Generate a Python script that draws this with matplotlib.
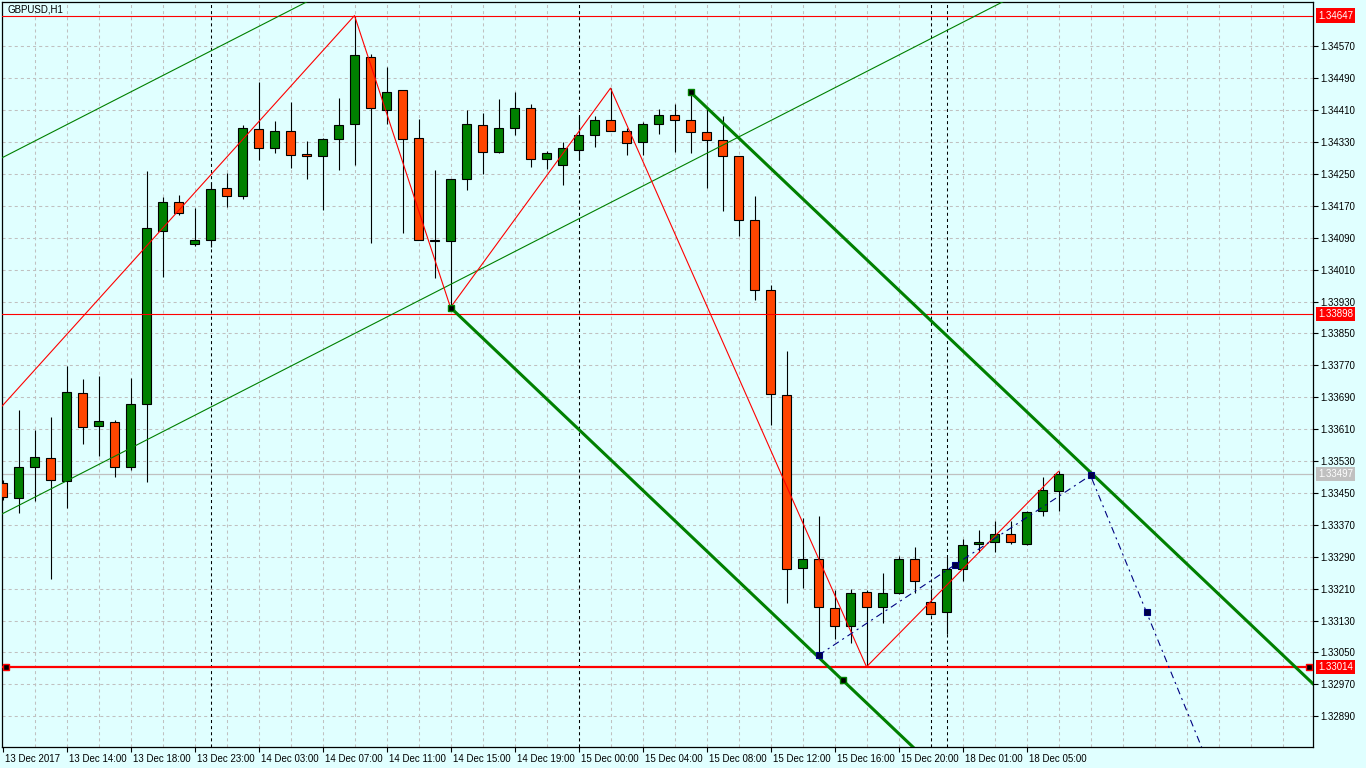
import matplotlib
matplotlib.use("Agg")
import matplotlib.pyplot as plt
import matplotlib.transforms as mtransforms
from matplotlib.patches import Rectangle

plt.rcParams['font.family'] = ['Liberation Sans', 'DejaVu Sans']
plt.rcParams['lines.scale_dashes'] = False

# ---------------- data ----------------
chart_title = "GBPUSD,H1"

opens = [1.33474, 1.33437, 1.33514, 1.33537, 1.33479, 1.33700, 1.33617, 1.33627, 1.33514, 1.33672,
         1.34106, 1.34179, 1.34074, 1.34084, 1.34214, 1.34194, 1.34362, 1.34314, 1.34357, 1.34299,
         1.34294, 1.34337, 1.34374, 1.34542, 1.34410, 1.34460, 1.34339, 1.34084, 1.34081, 1.34237,
         1.34372, 1.34304, 1.34364, 1.34415, 1.34287, 1.34272, 1.34309, 1.34347, 1.34384, 1.34357,
         1.34329, 1.34374, 1.34397, 1.34384, 1.34354, 1.34334, 1.34294, 1.34134, 1.33958, 1.33695,
         1.33261, 1.33284, 1.33161, 1.33116, 1.33201, 1.33163, 1.33198, 1.33284, 1.33176, 1.33151,
         1.33259, 1.33321, 1.33326, 1.33346, 1.33321, 1.33404, 1.33454]
highs = [1.33482, 1.33657, 1.33607, 1.33640, 1.33768, 1.33735, 1.33743, 1.33632, 1.33738, 1.34257,
         1.34191, 1.34196, 1.34164, 1.34229, 1.34252, 1.34372, 1.34480, 1.34382, 1.34430, 1.34332,
         1.34339, 1.34440, 1.34647, 1.34550, 1.34517, 1.34460, 1.34387, 1.34259, 1.34237, 1.34410,
         1.34402, 1.34437, 1.34455, 1.34425, 1.34307, 1.34329, 1.34395, 1.34395, 1.34465, 1.34364,
         1.34379, 1.34412, 1.34425, 1.34455, 1.34415, 1.34395, 1.34294, 1.34194, 1.33971, 1.33805,
         1.33387, 1.33391, 1.33206, 1.33208, 1.33206, 1.33249, 1.33291, 1.33314, 1.33208, 1.33289,
         1.33334, 1.33356, 1.33379, 1.33379, 1.33404, 1.33489, 1.33504]
lows = [1.33432, 1.33399, 1.33429, 1.33234, 1.33412, 1.33572, 1.33542, 1.33489, 1.33507, 1.33477,
        1.33991, 1.34146, 1.34069, 1.34066, 1.34166, 1.34186, 1.34284, 1.34302, 1.34264, 1.34237,
        1.34159, 1.34259, 1.34272, 1.34076, 1.34374, 1.34101, 1.34084, 1.33988, 1.33915, 1.34209,
        1.34249, 1.34302, 1.34347, 1.34267, 1.34262, 1.34222, 1.34284, 1.34317, 1.34357, 1.34297,
        1.34297, 1.34349, 1.34304, 1.34302, 1.34214, 1.34156, 1.34094, 1.33933, 1.33620, 1.33173,
        1.33211, 1.33043, 1.33083, 1.33073, 1.33014, 1.33123, 1.33196, 1.33198, 1.33144, 1.33096,
        1.33228, 1.33301, 1.33301, 1.33321, 1.33319, 1.33391, 1.33404]
closes = [1.33439, 1.33514, 1.33539, 1.33482, 1.33702, 1.33615, 1.33630, 1.33514, 1.33672, 1.34114,
          1.34179, 1.34151, 1.34084, 1.34211, 1.34194, 1.34364, 1.34314, 1.34357, 1.34297, 1.34294,
          1.34337, 1.34372, 1.34547, 1.34415, 1.34455, 1.34337, 1.34084, 1.34082, 1.34237, 1.34374,
          1.34304, 1.34364, 1.34415, 1.34287, 1.34302, 1.34314, 1.34347, 1.34384, 1.34357, 1.34327,
          1.34374, 1.34397, 1.34384, 1.34354, 1.34334, 1.34294, 1.34134, 1.33958, 1.33697, 1.33259,
          1.33284, 1.33163, 1.33116, 1.33198, 1.33163, 1.33198, 1.33284, 1.33228, 1.33146, 1.33259,
          1.33319, 1.33326, 1.33346, 1.33326, 1.33402, 1.33457, 1.33497]

xtick_pos = [0, 4, 8, 12, 16, 20, 24, 28, 32, 36, 40, 44, 48, 52, 56, 60, 64]
xtick_labels = ["13 Dec 2017", "13 Dec 14:00", "13 Dec 18:00", "13 Dec 23:00", "14 Dec 03:00",
                "14 Dec 07:00", "14 Dec 11:00", "14 Dec 15:00", "14 Dec 19:00", "15 Dec 00:00",
                "15 Dec 04:00", "15 Dec 08:00", "15 Dec 12:00", "15 Dec 16:00", "15 Dec 20:00",
                "18 Dec 01:00", "18 Dec 05:00"]
ytick_levels = [1.34570, 1.34490, 1.34410, 1.34330, 1.34250, 1.34170, 1.34090, 1.34010,
                1.33930, 1.33850, 1.33770, 1.33690, 1.33610, 1.33530, 1.33450, 1.33370,
                1.33290, 1.33210, 1.33130, 1.33050, 1.32970, 1.32890]

separator_bars = [13, 36, 58, 59]

zigzag_bars = [-2, 22, 28, 38, 54, 66]
zigzag_prices = [1.33580, 1.34647, 1.33915, 1.34465, 1.33014, 1.33504]

hline_top = 1.34647
hline_mid = 1.33898
hline_low = 1.33014
bid_price = 1.33497

thin_anchor_bar = 0.0
thin_lower_price = 1.33398
thin_upper_price = 1.34291
thin_slope = 0.0002053

thick_lower_anchor = (28, 1.33915)
thick_upper_anchor = (43, 1.34455)
thick_slope = -0.0003813
thick_third_bar = 52.5

blue_bars = [51, 59.5, 68, 71.5, 75]
blue_prices = [1.33043, 1.33269, 1.33494, 1.33151, 1.32807]

# ---------------- style ----------------
W, H = 1366, 768
BG = '#E0FFFF'
BULL = '#008000'
BEAR = '#FF4500'
GRID = '#C0C0C0'
FS = 7

fig = plt.figure(figsize=(W / 100, H / 100), dpi=100)
fig.patch.set_facecolor(BG)
left_px, right_px, top_px, bot_px = 2.3, 1313.3, 2.3, 747.3
ax = fig.add_axes([left_px / W, (H - bot_px) / H, (right_px - left_px) / W, (bot_px - top_px) / H])
ax.set_facecolor(BG)
ax.set_xlim(-0.0125, 81.925)
ax.set_ylim(1.328122, 1.346803)

# grid
for b in range(2, 82, 2):
    ax.axvline(b, color=GRID, lw=0.75, ls=(0, (2.2, 2.2)), zorder=1)
for yv in ytick_levels:
    ax.axhline(yv, color=GRID, lw=0.75, ls=(0, (2.2, 2.2)), zorder=1)

# period separators
for b in separator_bars:
    ax.axvline(b, color='black', lw=0.75, ls=(0, (2.2, 2.2)), zorder=2)

# bid line
ax.axhline(bid_price, color='#C0C0C0', lw=0.9, zorder=2)

# candles
for i, (o, h, l, c) in enumerate(zip(opens, highs, lows, closes)):
    col = BULL if c >= o else BEAR
    ax.vlines(i, l, h, colors='black', lw=0.8, zorder=3)
    bottom = min(o, c)
    height = max(abs(c - o), 1e-6)
    ax.add_patch(Rectangle((i - 0.3, bottom), 0.6, height, facecolor=col,
                           edgecolor='black', lw=0.8, zorder=4))

# horizontal red lines
ax.axhline(hline_top, color='red', lw=0.8, zorder=5)
ax.axhline(hline_mid, color='red', lw=0.8, zorder=5)
ax.axhline(hline_low, color='red', lw=1.6, zorder=5)
edge_tr = mtransforms.blended_transform_factory(ax.transAxes, ax.transData)
ax.plot([0.003, 0.997], [hline_low, hline_low], 's', ms=4.5, mfc='black', mec='red',
        mew=1, transform=edge_tr, zorder=9, clip_on=False)

# thin ascending channel
x0, x1 = -5, 100
for base in (thin_lower_price, thin_upper_price):
    ax.plot([x0, x1], [base + thin_slope * (x0 - thin_anchor_bar), base + thin_slope * (x1 - thin_anchor_bar)],
            color='#008000', lw=0.8, zorder=5)

# red zigzag
ax.plot(zigzag_bars, zigzag_prices, color='red', lw=0.8, zorder=5)

# thick descending channel
for (bx, by) in (thick_lower_anchor, thick_upper_anchor):
    ax.plot([bx, 100], [by, by + thick_slope * (100 - bx)], color='#008000', lw=2.2,
            zorder=6, solid_capstyle='butt')
third_price = thick_lower_anchor[1] + thick_slope * (thick_third_bar - thick_lower_anchor[0])
ax.plot([thick_lower_anchor[0], thick_upper_anchor[0], thick_third_bar],
        [thick_lower_anchor[1], thick_upper_anchor[1], third_price],
        's', ms=4.5, mfc='black', mec='#008000', mew=1, ls='none', zorder=9)

# blue dash-dot projection
ax.plot(blue_bars, blue_prices, color='#000080', lw=0.8, ls=(0, (5, 3, 1.5, 3)), zorder=7)
ax.plot(blue_bars[:4], blue_prices[:4], 's', ms=4, mfc='#000040', mec='#000080', mew=0.8,
        ls='none', zorder=9)

# axes styling
for s in ax.spines.values():
    s.set_color('black')
    s.set_linewidth(0.9)
ax.yaxis.tick_right()
ax.set_yticks(ytick_levels)
ax.set_yticklabels([f"{v:.5f}" for v in ytick_levels])
ax.set_xticks(xtick_pos)
ax.set_xticklabels(xtick_labels, ha='left')
ax.tick_params(axis='both', direction='out', length=3.5, width=0.8, colors='black',
               labelsize=FS, pad=1.5)
offs = mtransforms.ScaledTranslation(1.5 / 72, 0, fig.dpi_scale_trans)
for lbl in ax.get_xticklabels():
    lbl.set_transform(lbl.get_transform() + offs)

# price labels on the right axis
lab_tr = mtransforms.blended_transform_factory(ax.transAxes, ax.transData)
xlab = 1 + 5 / (right_px - left_px)
for price, bg in ((hline_top, 'red'), (hline_mid, 'red'), (hline_low, 'red'), (bid_price, '#C0C0C0')):
    ax.text(xlab, price, f"{price:.5f}", transform=lab_tr, color='white', fontsize=FS,
            va='center', ha='left', zorder=10,
            bbox=dict(boxstyle='square,pad=0.22', facecolor=bg, edgecolor='none'))

# title
fig.text(7 / W, 1 - 9.5 / H, chart_title, fontsize=FS, va='center', ha='left', color='black')

fig.savefig('out.png', dpi=100, facecolor=BG)
